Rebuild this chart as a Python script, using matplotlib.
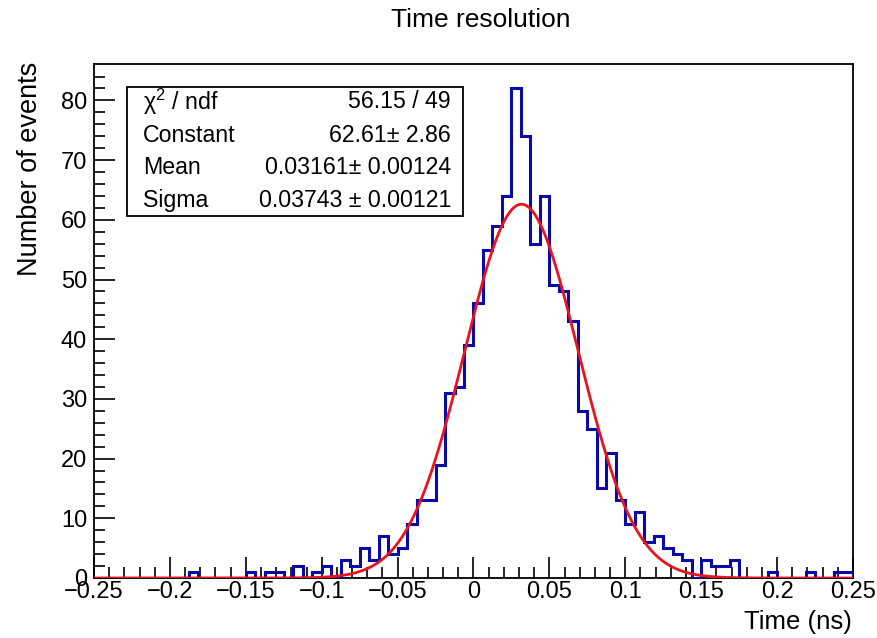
import numpy as np
import matplotlib
matplotlib.use("Agg")
import matplotlib.pyplot as plt
from matplotlib.patches import Rectangle

plt.rcParams['font.family'] = ['Liberation Sans', 'DejaVu Sans']
plt.rcParams['mathtext.fontset'] = 'custom'
plt.rcParams['mathtext.rm'] = 'Liberation Sans'
plt.rcParams['mathtext.it'] = 'Liberation Sans'
plt.rcParams['mathtext.default'] = 'regular'

# ---- data ----
x_min, x_max = -0.25, 0.25
n_bins = 80
counts = [0, 0, 0, 0, 0, 0, 0, 0, 0, 0,
          1, 0, 0, 0, 0, 0, 1, 0, 1, 1,
          0, 2, 0, 1, 2, 0, 3, 2, 5, 3,
          7, 4, 5, 9, 13, 13, 19, 31, 32, 39,
          46, 55, 59, 64, 82, 74, 56, 64, 49, 48,
          43, 28, 25, 15, 21, 13, 9, 11, 6, 7,
          5, 4, 3, 0, 3, 2, 2, 3, 0, 0,
          0, 1, 0, 0, 0, 1, 0, 0, 1, 1]

fit_constant = 62.61
fit_mean = 0.03161
fit_sigma = 0.03743

stats_labels = [r"$\chi^{2}$ / ndf", "Constant", "Mean", "Sigma"]
stats_values = ["56.15 / 49", "62.61± 2.86", "0.03161± 0.00124", "0.03743 ± 0.00121"]

x_ticks = [-0.25, -0.2, -0.15, -0.1, -0.05, 0, 0.05, 0.1, 0.15, 0.2, 0.25]
x_tick_labels = ["−0.25", "−0.2", "−0.15", "−0.1", "−0.05", "0", "0.05", "0.1", "0.15", "0.2", "0.25"]
y_ticks = [0, 10, 20, 30, 40, 50, 60, 70, 80]

# ---- figure ----
W, H = 877, 638
fig = plt.figure(figsize=(W / 100, H / 100), dpi=100)
L, R, T, B = 94, 853, 64, 578
ax = fig.add_axes([L / W, 1 - B / H, (R - L) / W, (B - T) / H])

def fx(px):
    return px / W

def fy(py):
    return 1 - py / H

edges = np.linspace(x_min, x_max, n_bins + 1)
ax.stairs(counts, edges, color='#0a0aa8', lw=2.2, zorder=3)

xf = np.linspace(x_min, x_max, 1000)
yf = fit_constant * np.exp(-0.5 * ((xf - fit_mean) / fit_sigma) ** 2)
ax.plot(xf, yf, color='#e8141e', lw=2.0, zorder=4)

ax.set_xlim(x_min, x_max)
ax.set_ylim(0, 1.05 * max(counts))

ax.set_xticks(x_ticks)
ax.set_xticklabels(x_tick_labels)
ax.set_xticks(np.arange(-0.25, 0.2501, 0.01), minor=True)
ax.set_yticks(y_ticks)
ax.set_yticks(np.arange(0, 86, 2), minor=True)

ax.tick_params(axis='both', which='major', direction='in', length=15, width=1.2,
               labelsize=17, colors='black', top=False, right=False)
ax.tick_params(axis='both', which='minor', direction='in', length=8, width=1.2,
               top=False, right=False)
ax.tick_params(axis='x', which='major', pad=2)
ax.tick_params(axis='y', which='major', pad=5)
for s in ax.spines.values():
    s.set_linewidth(1.3)

# title and axis labels
fig.text(fx(481), fy(20), "Time resolution", ha='center', va='center', fontsize=19)
fig.text(fx(852), fy(622), "Time (ns)", ha='right', va='center', fontsize=18.5)
fig.text(fx(30), fy(62), "Number of events", ha='center', va='top', rotation=90, fontsize=19.5)

# stats box
bx0, by0, bx1, by1 = 127, 87, 463, 216
fig.add_artist(Rectangle((fx(bx0), fy(by1)), fx(bx1) - fx(bx0), fy(by0) - fy(by1),
                         transform=fig.transFigure, facecolor='white',
                         edgecolor='black', lw=1.3, zorder=5))
row_y = [102, 135, 168, 200]
for lab, val, ry in zip(stats_labels, stats_values, row_y):
    fig.text(fx(143), fy(ry), lab, ha='left', va='center', fontsize=16.7, zorder=6)
    fig.text(fx(451), fy(ry), val, ha='right', va='center', fontsize=16.7, zorder=6)

fig.savefig("out.png", dpi=100)
